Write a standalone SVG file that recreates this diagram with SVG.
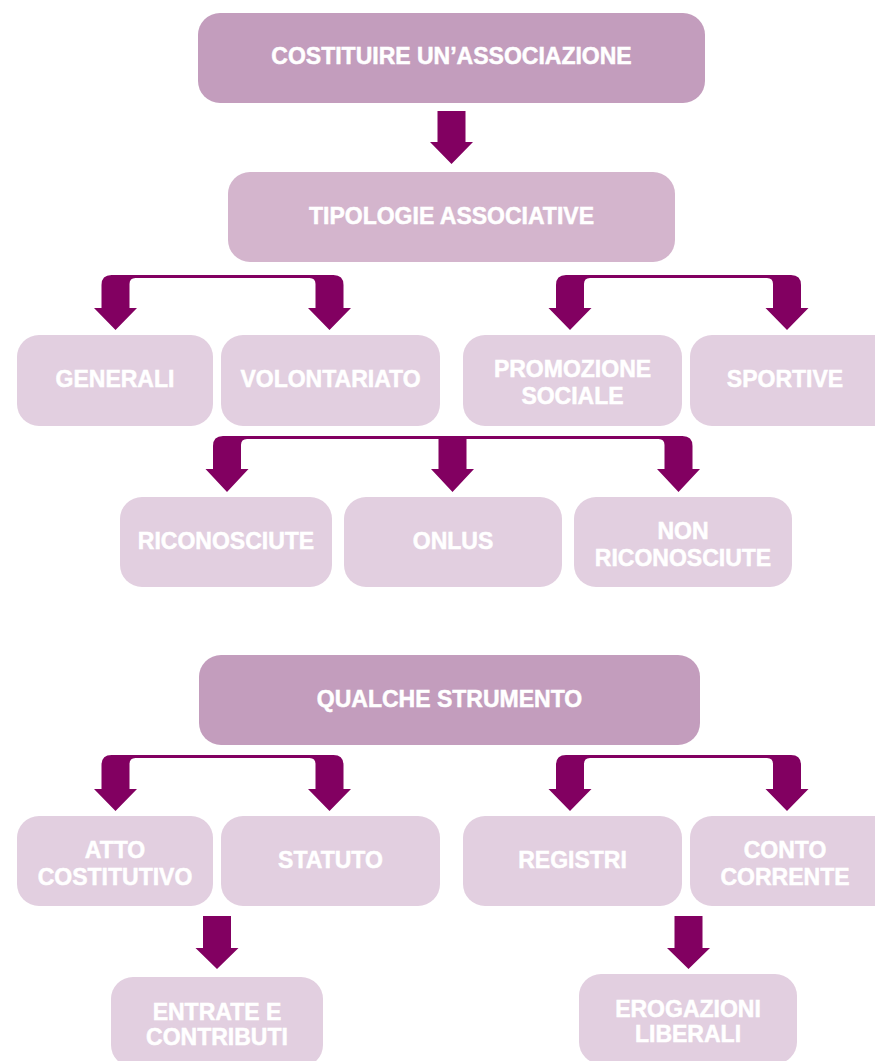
<svg xmlns="http://www.w3.org/2000/svg" width="875" height="1061" viewBox="0 0 875 1061">
<style>
.dark{fill:#c39dbd}
.mid{fill:#d4b5cd}
.light{fill:#e2cfe0}
.arrow{fill:#820061}
text{font-family:"Liberation Sans",Arial,sans-serif;font-weight:bold;font-size:23px;fill:#ffffff;stroke:#ffffff;stroke-width:0.5;text-anchor:middle}
</style>
<rect width="875" height="1061" fill="#ffffff"/>
<g id="connectors">
<path class="arrow" d="M437.5,111 H465.5 V142 H473 L451.5,164 L430,142 H437.5 Z"/>
<path class="arrow" d="M101.5,308 V285 Q101.5,275 111.5,275 H333.5 Q343.5,275 343.5,285 V308 H351 L329.5,330 L308,308 H315.5 V284 Q315.5,278 309.5,278 H135.5 Q129.5,278 129.5,284 V308 H137 L115.5,330 L94,308 Z"/>
<path class="arrow" d="M556,308 V285 Q556,275 566,275 H791 Q801,275 801,285 V308 H808.5 L787,330 L765.5,308 H773 V284 Q773,278 767,278 H590 Q584,278 584,284 V308 H591.5 L570,330 L548.5,308 Z"/>
<path class="arrow" d="M213,469 V446 Q213,436 223,436 H682.5 Q692.5,436 692.5,446 V469 H700 L678.5,492 L657,469 H664.5 V445 Q664.5,439 658.5,439 H247 Q241,439 241,445 V469 H248.5 L227,492 L205.5,469 Z"/>
<path class="arrow" d="M438.5,437 H466.5 V469 H474 L452.5,492 L431,469 H438.5 Z"/>
<path class="arrow" d="M101.5,789 V765 Q101.5,755 111.5,755 H333.5 Q343.5,755 343.5,765 V789 H351 L329.5,811 L308,789 H315.5 V764 Q315.5,758 309.5,758 H135.5 Q129.5,758 129.5,764 V789 H137 L115.5,811 L94,789 Z"/>
<path class="arrow" d="M556,789 V765 Q556,755 566,755 H791 Q801,755 801,765 V789 H808.5 L787,811 L765.5,789 H773 V764 Q773,758 767,758 H590 Q584,758 584,764 V789 H591.5 L570,811 L548.5,789 Z"/>
<path class="arrow" d="M203,916 H231 V948 H238.5 L217,969 L195.5,948 H203 Z"/>
<path class="arrow" d="M674.5,916 H702.5 V948 H710 L688.5,969 L667,948 H674.5 Z"/>
</g>
<g id="costituire"><rect class="dark" x="198" y="13" width="507" height="90" rx="22"/><text x="451.5" y="64">COSTITUIRE UN’ASSOCIAZIONE</text></g>
<g id="tipologie"><rect class="mid" x="228" y="172" width="447" height="90" rx="22"/><text x="451.5" y="223.5">TIPOLOGIE ASSOCIATIVE</text></g>
<g id="generali"><rect class="light" x="17" y="335" width="196" height="91" rx="22"/><text x="115" y="387">GENERALI</text></g>
<g id="volontariato"><rect class="light" x="221" y="335" width="219" height="91" rx="22"/><text x="330.5" y="387">VOLONTARIATO</text></g>
<g id="promozione"><rect class="light" x="463" y="335" width="219" height="91" rx="22"/><text x="572.5" y="377">PROMOZIONE</text><text x="572.5" y="404">SOCIALE</text></g>
<g id="sportive"><rect class="light" x="690" y="335" width="220" height="91" rx="22"/><text x="785" y="387">SPORTIVE</text></g>
<g id="riconosciute"><rect class="light" x="120" y="497" width="212" height="90" rx="22"/><text x="226" y="548.5">RICONOSCIUTE</text></g>
<g id="onlus"><rect class="light" x="344" y="497" width="218" height="90" rx="22"/><text x="453" y="548.5">ONLUS</text></g>
<g id="non-riconosciute"><rect class="light" x="574" y="497" width="218" height="90" rx="22"/><text x="683" y="539">NON</text><text x="683" y="566">RICONOSCIUTE</text></g>
<g id="qualche-strumento"><rect class="dark" x="199" y="655" width="501" height="90" rx="22"/><text x="449.5" y="706.5">QUALCHE STRUMENTO</text></g>
<g id="atto-costitutivo"><rect class="light" x="17" y="816" width="196" height="90" rx="22"/><text x="115" y="858">ATTO</text><text x="115" y="885">COSTITUTIVO</text></g>
<g id="statuto"><rect class="light" x="221" y="816" width="219" height="90" rx="22"/><text x="330.5" y="867.5">STATUTO</text></g>
<g id="registri"><rect class="light" x="463" y="816" width="219" height="90" rx="22"/><text x="572.5" y="867.5">REGISTRI</text></g>
<g id="conto-corrente"><rect class="light" x="690" y="816" width="220" height="90" rx="22"/><text x="785" y="858">CONTO</text><text x="785" y="885">CORRENTE</text></g>
<g id="entrate"><rect class="light" x="111" y="977" width="212" height="90" rx="22"/><text x="217" y="1020">ENTRATE E</text><text x="217" y="1045">CONTRIBUTI</text></g>
<g id="erogazioni"><rect class="light" x="579" y="974" width="218" height="90" rx="22"/><text x="688" y="1017">EROGAZIONI</text><text x="688" y="1042">LIBERALI</text></g>
</svg>
